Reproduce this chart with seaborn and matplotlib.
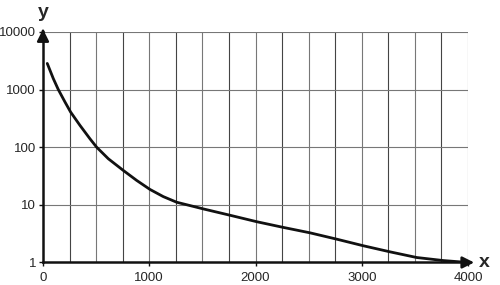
import matplotlib
matplotlib.use("Agg")
import matplotlib.pyplot as plt
import seaborn as sns
import pandas as pd
from matplotlib.ticker import NullLocator, FixedLocator, FixedFormatter

x_vals = [40, 97, 144, 207, 260, 348, 442, 505, 615, 756, 882, 1007, 1132, 1258,
          1509, 1760, 2011, 2262, 2513, 2764, 3015, 3266, 3517, 3768, 4000]
y_vals = [2840, 1550, 1000, 608, 407, 239, 140, 100, 63, 39.5, 26.5, 18.5, 13.9, 11.1,
          8.5, 6.6, 5.1, 4.06, 3.27, 2.54, 1.95, 1.53, 1.22, 1.08, 1.0]
x_ticks = [0, 1000, 2000, 3000, 4000]
x_tick_labels = ["0", "1000", "2000", "3000", "4000"]
y_ticks = [1, 10, 100, 1000, 10000]
y_tick_labels = ["1", "10", "100", "1000", "10000"]
x_grid = [250 * i for i in range(1, 17)]

sns.set_style("white")
plt.rcParams['font.family'] = ['Liberation Sans', 'DejaVu Sans']

df = pd.DataFrame({"x": x_vals, "y": y_vals})

fig = plt.figure(figsize=(5, 2.85), dpi=100)
ax = fig.add_axes([0.086, 0.079, 0.85, 0.809])
ax.set_yscale("log")
ax.set_xlim(0, 4000)
ax.set_ylim(1, 10000)

for i, gx in enumerate(x_grid):
    ax.axvline(gx, color="#444444" if i % 2 == 0 else "#777777", lw=0.8, zorder=1)
for gy in y_ticks[1:]:
    ax.axhline(gy, color="#777777", lw=0.8, zorder=1)

sns.lineplot(data=df, x="x", y="y", ax=ax, color="#111111", lw=2.0, zorder=3)

ax.xaxis.set_major_locator(FixedLocator(x_ticks))
ax.xaxis.set_major_formatter(FixedFormatter(x_tick_labels))
ax.yaxis.set_major_locator(FixedLocator(y_ticks))
ax.yaxis.set_major_formatter(FixedFormatter(y_tick_labels))
ax.yaxis.set_minor_locator(NullLocator())
ax.xaxis.set_minor_locator(NullLocator())
ax.tick_params(axis="both", which="major", length=3, width=1, direction="out",
               labelsize=9.5, color="#111111", pad=2, left=True, bottom=True)
ax.tick_params(axis="x", pad=4)
ax.set_xlabel("")
ax.set_ylabel("")

for s in ["top", "right"]:
    ax.spines[s].set_visible(False)
for s in ["left", "bottom"]:
    ax.spines[s].set_color("#111111")
    ax.spines[s].set_linewidth(1.8)
    ax.spines[s].set_zorder(4)

# axis arrows
ax.annotate("", xy=(1.021, 0), xytext=(0.99, 0), xycoords="axes fraction",
            arrowprops=dict(arrowstyle="-|>,head_length=0.7,head_width=0.35", color="#111111", lw=1.8),
            annotation_clip=False)
ax.annotate("", xy=(0, 1.024), xytext=(0, 0.99), xycoords="axes fraction",
            arrowprops=dict(arrowstyle="-|>,head_length=0.7,head_width=0.35", color="#111111", lw=1.8),
            annotation_clip=False)

ax.text(1.026, 0.0, "x", transform=ax.transAxes, fontsize=14, fontweight="bold",
        ha="left", va="center")
ax.text(0.0, 1.085, "y", transform=ax.transAxes, fontsize=14, fontweight="bold",
        ha="center", va="center")

fig.savefig("out.png", dpi=100)
